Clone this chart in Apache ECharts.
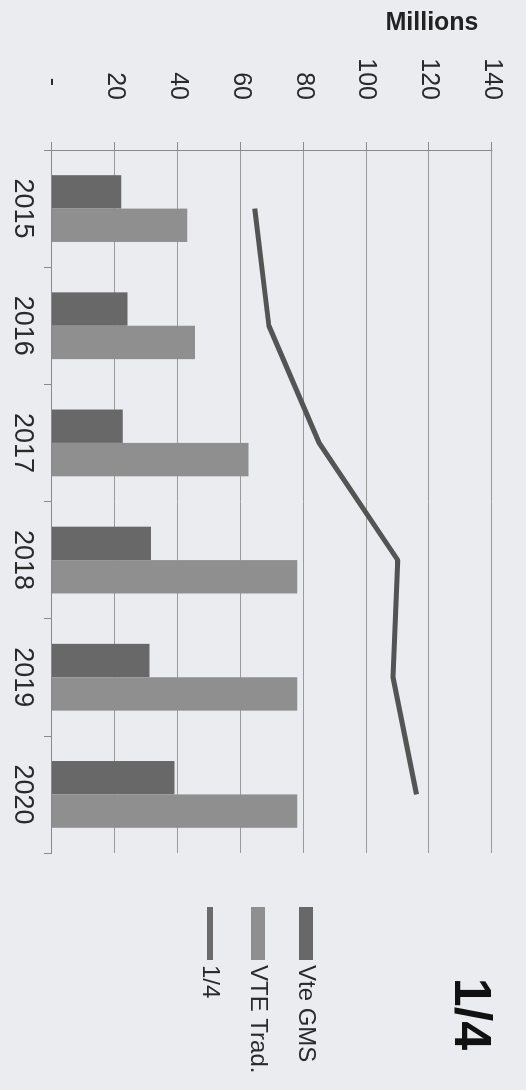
<!DOCTYPE html>
<html>
<head>
<meta charset="utf-8">
<script src="https://cdn.jsdelivr.net/npm/echarts@6/dist/echarts.min.js"></script>
<style>
  html, body { margin: 0; padding: 0; background: #eaecef; overflow: hidden; }
  body { width: 526px; height: 1090px; position: relative; }
  #chart {
    position: absolute; left: 0; top: 0;
    width: 1090px; height: 526px;
    transform-origin: 0 0;
    transform: translate(526px, 0) rotate(90deg);
  }
</style>
</head>
<body>
<div id="chart"></div>
<script>
// Data
var years = ['2015', '2016', '2017', '2018', '2019', '2020'];
var vteGMS = [22, 24, 22.5, 31.5, 31, 39];
var vteTrad = [43, 45.5, 62.5, 78, 78, 78];
var ratio = [64.5, 69, 85, 110, 108.5, 116];
var seriesNames = ['Vte GMS', 'VTE Trad.', '1/4'];
var chartTitle = '1/4';
var unitLabel = 'Millions';

var chart = echarts.init(document.getElementById('chart'), null, { renderer: 'canvas' });
var FONT = '"Liberation Sans", Arial, sans-serif';
var option = {
  backgroundColor: '#eaecef',
  animation: false,
  grid: { left: 150, right: 237, top: 34, bottom: 52, containLabel: false },
  legend: {
    orient: 'vertical',
    left: 902, top: 203,
    itemWidth: 53, itemHeight: 14, itemGap: 24,
    symbolKeepAspect: true,
    itemStyle: { borderWidth: 0 },
    textStyle: { fontFamily: FONT, fontSize: 24, color: '#2a2a2a' },
    data: [
      { name: seriesNames[0], icon: 'rect' },
      { name: seriesNames[1], icon: 'rect' },
      { name: seriesNames[2], icon: 'path://M0,0 L53,0 L53,6 L0,6 Z' }
    ]
  },
  graphic: [
    {
      type: 'text', x: 23, y: 94, rotation: Math.PI / 2,
      style: { text: unitLabel, font: 'bold 25px ' + FONT, fill: '#222', align: 'center', verticalAlign: 'middle' }
    },
    {
      type: 'text', x: 1014, y: 57,
      style: { text: chartTitle, font: 'bold 52px ' + FONT, fill: '#111', align: 'center', verticalAlign: 'middle' }
    }
  ],
  xAxis: {
    type: 'category',
    data: years,
    boundaryGap: true,
    axisLine: { show: true, lineStyle: { color: '#8a8a8a', width: 1 } },
    axisTick: { show: true, length: 8, lineStyle: { color: '#8a8a8a' } },
    axisLabel: { fontFamily: FONT, fontSize: 27, color: '#2a2a2a', margin: 16 },
    splitLine: { show: false }
  },
  yAxis: {
    type: 'value',
    min: 0, max: 140, interval: 20,
    axisLine: { show: true, lineStyle: { color: '#8a8a8a', width: 1 } },
    axisTick: { show: true, length: 8, lineStyle: { color: '#8a8a8a' } },
    axisLabel: {
      fontFamily: FONT, fontSize: 25, color: '#2a2a2a', margin: 50,
      formatter: function (v) { return v === 0 ? '-  ' : String(v); }
    },
    splitLine: { show: true, lineStyle: { color: '#9a9a9a', width: 1 } }
  },
  series: [
    {
      name: seriesNames[0], type: 'bar', data: vteGMS,
      barGap: '0%', barCategoryGap: '43%',
      itemStyle: { color: '#686868' }
    },
    {
      name: seriesNames[1], type: 'bar', data: vteTrad,
      barGap: '0%', barCategoryGap: '43%',
      itemStyle: { color: '#8f8f8f' }
    },
    {
      name: seriesNames[2], type: 'line', data: ratio,
      symbol: 'none', showSymbol: false,
      lineStyle: { color: '#545454', width: 5 },
      itemStyle: { color: '#6a6a6a' }
    }
  ]
};
chart.setOption(option);
</script>
</body>
</html>
